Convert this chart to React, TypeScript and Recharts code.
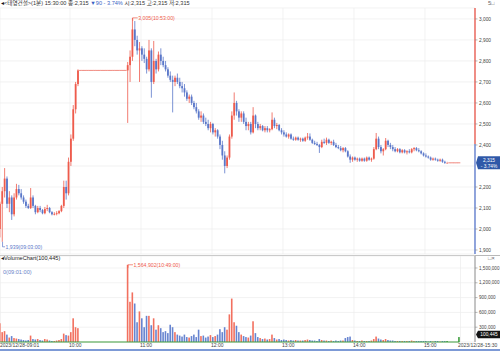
import React from "react";
import { ComposedChart, Bar, XAxis, YAxis, CartesianGrid, ReferenceLine, ReferenceDot } from "recharts";

// 2-minute candles starting 09:01 (minute-of-day 541)
const FIRST_MINUTE = 541;
const STEP = 2;
const PREV_CLOSE = 2405;
const LAST_PRICE = 2315;
const LAST_VOLUME = 100445;
const HIGH_POINT = { t: 653, p: 3005, label: "3,005(10:53:00)" };
const LOW_POINT = { t: 543, p: 1939, label: "1,939(09:03:00)" };
const MAX_VOL_POINT = { t: 649, v: 1564902, label: "1,564,902(10:49:00)" };

const OPEN = [
  2000, 2120, 2180, 2240, 2120, 2150, 2070, 2150, 2190, 2170,
  2150, 2130, 2110, 2100, 2150, 2110, 2080, 2100, 2090, 2075,
  2095, 2100, 2080, 2070, 2072, 2075, 2085, 2110, 2200, 2170,
  2320, 2430, 2570, 2690, 2755, 2755, 2755, 2755, 2755, 2755,
  2755, 2755, 2755, 2755, 2755, 2755, 2755, 2755, 2755, 2755,
  2755, 2755, 2755, 2755, 2755, 2780, 2820, 2950, 2900, 2850,
  2860, 2830, 2810, 2760, 2850, 2700, 2800, 2760, 2830, 2800,
  2780, 2760, 2730, 2710, 2700, 2720, 2700, 2680, 2670, 2650,
  2620, 2630, 2600, 2580, 2560, 2530, 2540, 2510, 2500, 2480,
  2500, 2460, 2470, 2440, 2400, 2350, 2300, 2340, 2440, 2540,
  2600, 2560, 2530, 2550, 2510, 2490, 2500, 2460, 2540, 2500,
  2480, 2490, 2470, 2480, 2470, 2475, 2520, 2490, 2495, 2470,
  2460, 2450, 2440, 2450, 2430, 2425, 2435, 2425, 2430, 2420,
  2435, 2440, 2425, 2410, 2405, 2400, 2390, 2415, 2410, 2425,
  2410, 2415, 2400, 2390, 2385, 2375, 2385, 2370, 2345, 2330,
  2340, 2330, 2335, 2325, 2335, 2325, 2340, 2330, 2335, 2380,
  2430, 2390, 2370, 2380, 2420, 2400, 2390, 2380, 2370, 2380,
  2365, 2375, 2365, 2370, 2365, 2380, 2385, 2375, 2370, 2360,
  2350, 2345, 2340, 2330, 2335, 2330, 2325, 2330, 2320, 2315,
  2315, 2315, 2315, 2315, 2315,
];

const HIGH = [
  2130, 2200, 2290, 2250, 2180, 2160, 2170, 2215, 2210, 2190,
  2160, 2140, 2120, 2195, 2160, 2115, 2110, 2110, 2095, 2105,
  2115, 2105, 2085, 2080, 2085, 2090, 2115, 2230, 2230, 2340,
  2450, 2590, 2700, 2760, 2755, 2755, 2755, 2755, 2755, 2755,
  2755, 2755, 2755, 2755, 2755, 2755, 2755, 2755, 2755, 2755,
  2755, 2755, 2755, 2755, 2795, 2850, 3005, 2990, 2920, 2890,
  2870, 2860, 2820, 2900, 2860, 2895, 2810, 2845, 2860, 2820,
  2800, 2770, 2750, 2730, 2730, 2740, 2720, 2700, 2690, 2660,
  2640, 2640, 2610, 2600, 2570, 2560, 2550, 2530, 2520, 2510,
  2505, 2480, 2475, 2450, 2420, 2370, 2350, 2450, 2560, 2650,
  2610, 2570, 2560, 2560, 2530, 2510, 2510, 2580, 2545, 2510,
  2500, 2495, 2490, 2490, 2480, 2555, 2530, 2505, 2500, 2480,
  2470, 2460, 2455, 2455, 2440, 2440, 2440, 2435, 2435, 2440,
  2457, 2455, 2430, 2420, 2415, 2405, 2425, 2430, 2435, 2430,
  2420, 2425, 2410, 2400, 2395, 2390, 2390, 2375, 2355, 2345,
  2345, 2340, 2340, 2340, 2340, 2345, 2345, 2340, 2390, 2457,
  2440, 2400, 2385, 2433, 2425, 2410, 2400, 2390, 2385, 2385,
  2380, 2380, 2375, 2380, 2385, 2390, 2390, 2385, 2375, 2365,
  2360, 2350, 2345, 2340, 2340, 2335, 2335, 2335, 2325, 2320,
  2315, 2315, 2315, 2315, 2315,
];

const LOW = [
  1960, 1939, 2150, 2100, 2080, 2043, 2060, 2140, 2160, 2140,
  2120, 2100, 2095, 2095, 2100, 2070, 2075, 2080, 2070, 2070,
  2085, 2075, 2065, 2065, 2065, 2070, 2080, 2100, 2140, 2160,
  2300, 2420, 2550, 2680, 2755, 2755, 2755, 2755, 2755, 2755,
  2755, 2755, 2755, 2755, 2755, 2755, 2755, 2755, 2755, 2755,
  2755, 2755, 2755, 2755, 2505, 2700, 2800, 2870, 2830, 2700,
  2800, 2790, 2740, 2750, 2625, 2690, 2740, 2750, 2780, 2770,
  2750, 2720, 2700, 2555, 2680, 2690, 2670, 2650, 2630, 2610,
  2600, 2590, 2570, 2550, 2520, 2510, 2500, 2490, 2470, 2460,
  2450, 2440, 2430, 2380, 2330, 2265, 2290, 2330, 2430, 2520,
  2540, 2510, 2510, 2500, 2470, 2470, 2450, 2455, 2480, 2470,
  2470, 2465, 2460, 2460, 2460, 2470, 2480, 2475, 2465, 2450,
  2440, 2435, 2430, 2425, 2420, 2420, 2420, 2415, 2415, 2415,
  2425, 2420, 2405, 2400, 2395, 2362, 2385, 2405, 2400, 2405,
  2400, 2395, 2385, 2380, 2370, 2365, 2365, 2340, 2315, 2320,
  2325, 2320, 2320, 2320, 2320, 2320, 2325, 2320, 2330, 2375,
  2380, 2360, 2350, 2375, 2390, 2380, 2370, 2365, 2365, 2360,
  2360, 2360, 2355, 2360, 2360, 2370, 2370, 2365, 2355, 2345,
  2340, 2335, 2325, 2325, 2325, 2320, 2320, 2315, 2310, 2310,
  2315, 2315, 2315, 2315, 2315,
];

const CLOSE = [
  2120, 2180, 2240, 2120, 2150, 2070, 2150, 2190, 2170, 2150,
  2130, 2110, 2100, 2150, 2110, 2080, 2100, 2090, 2075, 2095,
  2100, 2080, 2070, 2072, 2075, 2085, 2110, 2200, 2170, 2320,
  2430, 2570, 2690, 2755, 2755, 2755, 2755, 2755, 2755, 2755,
  2755, 2755, 2755, 2755, 2755, 2755, 2755, 2755, 2755, 2755,
  2755, 2755, 2755, 2755, 2780, 2820, 2950, 2900, 2850, 2860,
  2830, 2810, 2760, 2850, 2700, 2800, 2760, 2830, 2800, 2780,
  2760, 2730, 2710, 2700, 2720, 2700, 2680, 2670, 2650, 2620,
  2630, 2600, 2580, 2560, 2530, 2540, 2510, 2500, 2480, 2500,
  2460, 2470, 2440, 2400, 2350, 2300, 2340, 2440, 2540, 2600,
  2560, 2530, 2550, 2510, 2490, 2500, 2460, 2540, 2500, 2480,
  2490, 2470, 2480, 2470, 2475, 2520, 2490, 2495, 2470, 2460,
  2450, 2440, 2450, 2430, 2425, 2435, 2425, 2430, 2420, 2435,
  2440, 2425, 2410, 2405, 2400, 2390, 2415, 2410, 2425, 2410,
  2415, 2400, 2390, 2385, 2375, 2385, 2370, 2345, 2330, 2340,
  2330, 2335, 2325, 2335, 2325, 2340, 2330, 2335, 2380, 2430,
  2390, 2370, 2380, 2420, 2400, 2390, 2380, 2370, 2380, 2365,
  2375, 2365, 2370, 2365, 2380, 2385, 2375, 2370, 2360, 2350,
  2345, 2340, 2330, 2335, 2330, 2325, 2330, 2320, 2315, 2315,
  2315, 2315, 2315, 2315, 2315,
];

const VOLUME = [
  380000, 200000, 220000, 150000, 90000, 120000, 80000, 70000, 60000, 50000,
  40000, 30000, 40000, 130000, 60000, 50000, 60000, 40000, 30000, 60000,
  50000, 30000, 20000, 20000, 30000, 40000, 60000, 170000, 140000, 130000,
  200000, 480000, 300000, 280000, 0, 0, 0, 0, 0, 0,
  0, 0, 0, 0, 0, 0, 0, 0, 0, 0,
  0, 0, 0, 0, 1564902, 815000, 1005000, 780000, 400000, 620000,
  480000, 300000, 530000, 530000, 340000, 480000, 250000, 340000, 280000, 200000,
  220000, 180000, 350000, 300000, 200000, 150000, 130000, 110000, 150000, 100000,
  90000, 120000, 150000, 100000, 250000, 120000, 130000, 90000, 110000, 140000,
  100000, 120000, 150000, 260000, 200000, 300000, 250000, 560000, 880000, 400000,
  330000, 200000, 150000, 120000, 100000, 90000, 130000, 420000, 180000, 100000,
  80000, 60000, 70000, 50000, 60000, 150000, 80000, 50000, 60000, 40000,
  50000, 40000, 30000, 40000, 30000, 40000, 30000, 30000, 30000, 40000,
  50000, 40000, 30000, 30000, 20000, 60000, 40000, 30000, 30000, 20000,
  30000, 20000, 30000, 20000, 30000, 30000, 80000, 100000, 110000, 40000,
  30000, 20000, 20000, 30000, 20000, 20000, 20000, 30000, 60000, 110000,
  70000, 50000, 40000, 60000, 40000, 30000, 30000, 20000, 20000, 20000,
  20000, 20000, 20000, 20000, 30000, 20000, 20000, 20000, 20000, 20000,
  20000, 10000, 20000, 10000, 20000, 20000, 10000, 20000, 20000, 20000,
  0, 0, 0, 0, 100445,
];

const PRICE_TICKS = [1900, 2000, 2100, 2200, 2300, 2400, 2500, 2600, 2700, 2800, 2900, 3000];
const VOLUME_TICKS = [300000, 600000, 900000, 1200000, 1500000];
const HOUR_TICKS = [600, 660, 720, 780, 840, 900];
const TIME_TICKS = [541, 600, 660, 720, 780, 840, 900, 930];
const TIME_TICK_LABELS = ["2023/12/28-09:01", "10:00", "11:00", "12:00", "13:00", "14:00", "15:00", "2023/12/28-15:30"];

const X_DOMAIN = [540.85, 942.25];
const PRICE_DOMAIN = [1881, 3052];
const VOLUME_DOMAIN = [0, 1743000];

const UP = "#ee5b4c";
const DOWN = "#5a77c9";
const FLAT = "#f08a80";
const VUP = "#f2705f";
const VDOWN = "#6784d0";
const VFLAT = "#3f9e3f";
const FONT = "'Liberation Sans', Arial, 'Noto Sans CJK KR', sans-serif";

const rows = OPEN.map((o, i) => ({
  t: FIRST_MINUTE + i * STEP,
  o,
  h: HIGH[i],
  l: LOW[i],
  c: CLOSE[i],
  range: [LOW[i], HIGH[i]],
  v: VOLUME[i],
}));

const fmt = (n: number) => n.toLocaleString("en-US");

const Candle = (props: any) => {
  const { x, y, width, height, payload } = props;
  if (x == null || y == null) return null;
  const { o, h, l, c } = payload;
  const color = c > o ? UP : c < o ? DOWN : FLAT;
  const top = Math.min(y, y + height);
  const hh = Math.abs(height);
  const cx = x + width / 2;
  if (h === l || hh === 0) {
    return <line x1={x - 0.4} x2={x + width + 0.4} y1={top} y2={top} stroke={color} strokeWidth={1} />;
  }
  const ppu = hh / (h - l);
  const bTop = top + (h - Math.max(o, c)) * ppu;
  const bBot = top + (h - Math.min(o, c)) * ppu;
  return (
    <g>
      <line x1={cx} x2={cx} y1={top} y2={top + hh} stroke={color} strokeWidth={0.8} />
      <rect x={x} y={bTop} width={width} height={Math.max(bBot - bTop, 0.8)} fill={color} />
    </g>
  );
};

const VolBar = (props: any) => {
  const { x, y, width, height, payload } = props;
  if (x == null || y == null || !height) return null;
  const color = payload.c > payload.o ? VUP : payload.c < payload.o ? VDOWN : VFLAT;
  return <rect x={x} y={Math.min(y, y + height)} width={width} height={Math.abs(height)} fill={color} />;
};

const PriceTick = (props: any) => {
  const { x, y, payload } = props;
  if (Math.abs(payload.value - LAST_PRICE) < 40) return null;
  return (
    <g>
      <line x1={x - 4} x2={x - 1.5} y1={y} y2={y} stroke="#888" strokeWidth={0.6} />
      <text x={x} y={y + 1.7} fontSize={4.8} fill="#444" fontFamily={FONT} textAnchor="start">
        {fmt(payload.value)}
      </text>
    </g>
  );
};

const TimeTick = (props: any) => {
  const { x, y, payload, index } = props;
  const i = TIME_TICKS.indexOf(payload.value);
  const label = TIME_TICK_LABELS[i >= 0 ? i : index];
  const dx = i === 0 ? -0.2 : i === TIME_TICKS.length - 1 ? -2.5 : -1;
  return (
    <text x={x + dx} y={y + 5} fontSize={5} fill="#444" fontFamily={FONT} textAnchor="start">
      {label}
    </text>
  );
};

const HighMark = (props: any) => {
  const { cx, cy } = props;
  return (
    <g>
      <path d={`M${cx},${cy + 3} L${cx},${cy} L${cx + 5},${cy}`} stroke={UP} strokeWidth={0.7} fill="none" />
      <text x={cx + 5.5} y={cy + 1.8} fontSize={5.2} fill={UP} fontFamily={FONT}>{HIGH_POINT.label}</text>
    </g>
  );
};

const LowMark = (props: any) => {
  const { cx, cy } = props;
  return (
    <g>
      <path d={`M${cx},${cy} L${cx},${cy + 5} L${cx + 2.5},${cy + 5}`} stroke={DOWN} strokeWidth={0.7} fill="none" />
      <text x={cx + 3} y={cy + 6.8} fontSize={5.2} fill={DOWN} fontFamily={FONT}>{LOW_POINT.label}</text>
    </g>
  );
};

const VolMaxMark = (props: any) => {
  const { cx, cy } = props;
  return (
    <g>
      <path d={`M${cx},${cy + 3} L${cx},${cy} L${cx + 5},${cy}`} stroke={UP} strokeWidth={0.7} fill="none" />
      <text x={cx + 5.5} y={cy + 1.8} fontSize={5.2} fill={UP} fontFamily={FONT}>{MAX_VOL_POINT.label}</text>
    </g>
  );
};

const LastPriceBox = (props: any) => {
  const { cx, cy } = props;
  return (
    <g>
      <path d={`M${cx + 1},${cy} L${cx + 3},${cy - 6.5} L${cx + 25},${cy - 6.5} L${cx + 25},${cy + 6.5} L${cx + 3},${cy + 6.5} Z`} fill="#2f58a8" />
      <text x={cx + 14} y={cy - 1} fontSize={4.8} fill="#fff" textAnchor="middle" fontFamily={FONT}>{fmt(LAST_PRICE)}</text>
      <text x={cx + 14} y={cy + 5} fontSize={4.8} fill="#fff" textAnchor="middle" fontFamily={FONT}>- 3.74%</text>
    </g>
  );
};

const LastVolumeBox = (props: any) => {
  const { cx, cy } = props;
  const c = cy - 2.5;
  return (
    <g>
      <path d={`M${cx + 1},${c} L${cx + 3},${c - 3.8} L${cx + 25},${c - 3.8} L${cx + 25},${c + 3.8} L${cx + 3},${c + 3.8} Z`} fill="#151515" />
      <text x={cx + 14} y={c + 1.7} fontSize={4.8} fill="#fff" textAnchor="middle" fontFamily={FONT}>{fmt(LAST_VOLUME)}</text>
    </g>
  );
};

const VolTick = (props: any) => {
  const { x, y, payload } = props;
  return (
    <g>
      <line x1={x - 4} x2={x - 1.5} y1={y} y2={y} stroke="#888" strokeWidth={0.6} />
      <text x={x} y={y + 1.7} fontSize={4.6} fill="#444" fontFamily={FONT} textAnchor="start">
        {fmt(payload.value)}
      </text>
    </g>
  );
};

export default function App() {
  const smallText: React.CSSProperties = {
    position: "absolute",
    fontFamily: FONT,
    fontSize: 5.6,
    lineHeight: "7px",
    whiteSpace: "nowrap",
    color: "#333",
  };
  return (
    <div style={{ position: "absolute", left: 0, top: 0, width: 500, height: 351, background: "#fff", overflow: "hidden" }}>
      <div style={{ position: "absolute", left: 0, top: 0 }}>
        <ComposedChart width={500} height={255} data={rows} margin={{ top: 8, right: 0, left: 0, bottom: 1 }}>
          <CartesianGrid stroke="#ececec" strokeWidth={0.7} />
          <XAxis dataKey="t" type="number" domain={X_DOMAIN} allowDataOverflow ticks={HOUR_TICKS} hide />
          <YAxis
            orientation="right"
            width={25}
            type="number"
            domain={PRICE_DOMAIN}
            allowDataOverflow
            ticks={PRICE_TICKS}
            interval={0}
            axisLine={false}
            tickLine={false}
            tickSize={0}
            tickMargin={4}
            tick={<PriceTick />}
          />
          <Bar dataKey="range" barSize={1.8} shape={<Candle />} isAnimationActive={false} />
          <ReferenceLine segment={[{ x: X_DOMAIN[1], y: PRICE_DOMAIN[1] }, { x: X_DOMAIN[1], y: PREV_CLOSE }]} stroke="#e8463a" strokeWidth={1.2} ifOverflow="visible" />
          <ReferenceLine segment={[{ x: X_DOMAIN[1], y: PREV_CLOSE }, { x: X_DOMAIN[1], y: PRICE_DOMAIN[0] }]} stroke="#4a6cc8" strokeWidth={1.2} ifOverflow="visible" />
          <ReferenceDot x={HIGH_POINT.t} y={HIGH_POINT.p} shape={<HighMark />} ifOverflow="visible" />
          <ReferenceDot x={LOW_POINT.t} y={LOW_POINT.p} shape={<LowMark />} ifOverflow="visible" />
          <ReferenceDot x={X_DOMAIN[1]} y={LAST_PRICE} shape={<LastPriceBox />} ifOverflow="visible" />
        </ComposedChart>
      </div>
      <div style={{ position: "absolute", left: 0, top: 255, width: 500, height: 0, borderTop: "1px solid #b8b8b8" }} />
      <div style={{ position: "absolute", left: 0, top: 255 }}>
        <ComposedChart width={500} height={96} data={rows} margin={{ top: 1, right: 0, left: 0, bottom: 0 }}>
          <CartesianGrid stroke="#ececec" strokeWidth={0.7} />
          <XAxis
            dataKey="t"
            type="number"
            domain={X_DOMAIN}
            allowDataOverflow
            ticks={TIME_TICKS}
            interval={0}
            height={9}
            axisLine={false}
            tickLine={false}
            tickSize={0}
            tickMargin={0}
            tick={<TimeTick />}
          />
          <YAxis
            orientation="right"
            width={25}
            type="number"
            domain={VOLUME_DOMAIN}
            allowDataOverflow
            ticks={VOLUME_TICKS}
            interval={0}
            axisLine={{ stroke: "#777", strokeWidth: 0.8 }}
            tickLine={false}
            tickSize={0}
            tickMargin={4}
            tick={<VolTick />}
          />
          <Bar dataKey="v" barSize={1.6} shape={<VolBar />} isAnimationActive={false} />
          <ReferenceLine segment={[{ x: FIRST_MINUTE, y: 0 }, { x: rows[rows.length - 1].t, y: 0 }]} stroke={VFLAT} strokeWidth={1} ifOverflow="visible" />
          <ReferenceDot x={MAX_VOL_POINT.t} y={MAX_VOL_POINT.v} shape={<VolMaxMark />} ifOverflow="visible" />
          <ReferenceDot x={X_DOMAIN[1]} y={LAST_VOLUME} shape={<LastVolumeBox />} ifOverflow="visible" />
        </ComposedChart>
      </div>
      <div style={{ ...smallText, left: 1, top: 0 }}>
        <span style={{ color: "#111" }}>◂</span>&lt;태영건설&gt;(1분) 15:30:00 종:2,315{" "}
        <span style={{ color: "#3a5fc4" }}>▼90 - 3.74%</span> 시:2,315 고:2,315 저:2,315
      </div>
      <div style={{ ...smallText, left: 488, top: 0, color: "#666" }}>5□</div>
      <div style={{ ...smallText, left: 1, top: 255, color: "#222" }}>◂VolumeChart(100,445)</div>
      <div style={{ ...smallText, left: 488, top: 255, color: "#666" }}>□×</div>
      <div style={{ ...smallText, left: 3, top: 269, color: "#6a84c8" }}>0(09:01:00)</div>
      <div style={{ position: "absolute", left: 0, top: 349, width: 500, height: 2, background: "#7d9ad6" }} />
    </div>
  );
}
